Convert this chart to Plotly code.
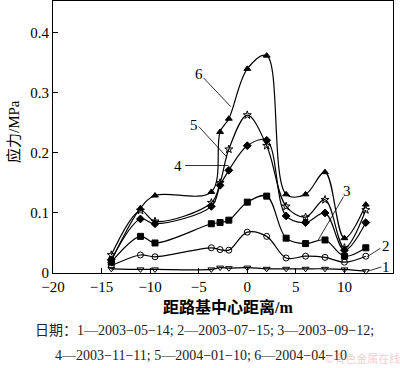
import plotly.graph_objects as go

# distance from subgrade centre (m)
x_dist = [-14, -11, -9.5, -3.7, -2.8, -1.9, 0, 2, 4, 6, 8, 10, 12.2]

s1 = [0.007, 0.006, 0.006, 0.006, 0.009, 0.008, 0.009, 0.007, 0.007, 0.007, 0.007, 0.006, 0.003]
s2 = [0.012, 0.030, 0.027, 0.042, 0.039, 0.038, 0.068, 0.061, 0.025, 0.028, 0.026, 0.018, 0.028]
s3 = [0.018, 0.061, 0.050, 0.082, 0.084, 0.088, 0.118, 0.128, 0.058, 0.049, 0.055, 0.028, 0.042]
s4 = [0.022, 0.090, 0.082, 0.111, 0.146, 0.171, 0.212, 0.221, 0.095, 0.084, 0.100, 0.038, 0.084]
s5 = [0.030, 0.104, 0.086, 0.117, 0.150, 0.206, 0.263, 0.212, 0.111, 0.093, 0.122, 0.042, 0.105]
s6 = [0.020, 0.108, 0.129, 0.135, 0.235, 0.257, 0.340, 0.362, 0.131, 0.131, 0.168, 0.058, 0.114]

series_names = ["1", "2", "3", "4", "5", "6"]
series_vals = [s1, s2, s3, s4, s5, s6]
symbols = ["triangle-down-open", "circle-open", "square", "diamond", "star-open", "triangle-up"]

x_ticks = [-20, -15, -10, -5, 0, 5, 10, 15]
x_ticktext = ["\u221220", "\u221215", "\u221210", "\u22125", "0", "5", "10", "15"]
y_ticks = [0, 0.1, 0.2, 0.3, 0.4]
y_ticktext = ["0", "0.1", "0.2", "0.3", "0.4"]

serif = "Liberation Serif, Noto Sans CJK SC, serif"

W, H = 400, 368
L, R, T, B = 53, 7, 1, 95
pw, ph = W - L - R, H - T - B


def px_x(p):
    return (p - L) / pw


def px_y(p):
    return (H - B - p) / ph


fig = go.Figure()
for name, vals, sym in zip(series_names, series_vals, symbols):
    fig.add_trace(go.Scatter(
        x=x_dist, y=vals, name=name, mode="lines+markers",
        line=dict(color="black", width=1.2, shape="spline", smoothing=1),
        marker=dict(symbol=sym, size=6, color="black",
                    line=dict(color="black", width=1)),
        showlegend=False, cliponaxis=False,
    ))

# leader labels: (text, label x, label y, line start x, y, line end x, y)
labels = [
    ("6", -5.0, 0.332, -4.5, 0.325, -1.7, 0.277),
    ("5", -5.5, 0.246, -5.0, 0.244, -2.1, 0.193),
    ("4", -7.1, 0.178, -6.4, 0.179, -1.95, 0.179),
    ("3", 10.3, 0.137, 9.9, 0.127, 7.3, 0.055),
    ("2", 14.3, 0.045, 13.7, 0.041, 12.3, 0.027),
    ("1", 14.3, 0.010, 13.8, 0.010, 12.4, 0.003),
]
for t, lx, ly, x0, y0, x1, y1 in labels:
    fig.add_shape(type="line", x0=x0, y0=y0, x1=x1, y1=y1, xref="x", yref="y",
                  line=dict(color="black", width=0.8))
    fig.add_annotation(x=lx, y=ly, text=t, showarrow=False, xref="x", yref="y",
                       font=dict(family=serif, size=15, color="black"))

# axis titles
fig.add_annotation(x=px_x(228), y=px_y(307), xref="paper", yref="paper",
                   text="<b>\u8ddd\u8def\u57fa\u4e2d\u5fc3\u8ddd\u79bb/m</b>", showarrow=False,
                   font=dict(family="Liberation Serif, Noto Sans CJK SC, serif", size=16, color="black"),
                   xanchor="center", yanchor="middle")
fig.add_annotation(x=px_x(13), y=px_y(132), xref="paper", yref="paper",
                   text="\u5e94\u529b/MPa", showarrow=False, textangle=-90,
                   font=dict(family="Liberation Serif, Noto Sans CJK SC, serif", size=15, color="black"),
                   xanchor="center", yanchor="middle")

# caption
fig.add_annotation(x=px_x(204), y=px_y(330), xref="paper", yref="paper", showarrow=False,
                   text="\u65e5\u671f\uff1a1\u20142003\u221205\u221214; 2\u20142003\u221207\u221215; 3\u20142003\u221209\u221212;",
                   font=dict(family=serif, size=14, color="#222"),
                   xanchor="center", yanchor="middle")
fig.add_annotation(x=px_x(201), y=px_y(355), xref="paper", yref="paper", showarrow=False,
                   text="4\u20142003\u221211\u221211; 5\u20142004\u221201\u221210; 6\u20142004\u221204\u221210",
                   font=dict(family=serif, size=14, color="#222"),
                   xanchor="center", yanchor="middle")

fig.add_annotation(x=px_x(362), y=px_y(358), xref="paper", yref="paper",
                   showarrow=False, text="\u00a9\u6709\u8272\u91d1\u5c5e\u5728\u7ebf",
                   font=dict(family="Noto Sans CJK SC", size=11, color="rgba(235,140,150,0.45)"),
                   xanchor="center", yanchor="middle")

fig.update_layout(
    width=W, height=H,
    margin=dict(l=L, r=R, t=T, b=B, autoexpand=False),
    paper_bgcolor="white", plot_bgcolor="white",
    xaxis=dict(range=[-20, 15], tickvals=x_ticks, ticktext=x_ticktext, automargin=False,
               ticks="inside", ticklen=5, tickcolor="black", showgrid=False,
               zeroline=False, showline=True, linecolor="black", linewidth=1, mirror=True,
               tickfont=dict(family=serif, size=15, color="black")),
    yaxis=dict(range=[0, 0.453], tickvals=y_ticks, ticktext=y_ticktext, automargin=False,
               ticks="inside", ticklen=5, tickcolor="black", showgrid=False,
               zeroline=False, showline=True, linecolor="black", linewidth=1, mirror=True,
               tickfont=dict(family=serif, size=15, color="black")),
)

fig.write_html("out.html", config={"displayModeBar": False},
               post_script="document.body.style.margin='0';document.body.style.padding='0';")
